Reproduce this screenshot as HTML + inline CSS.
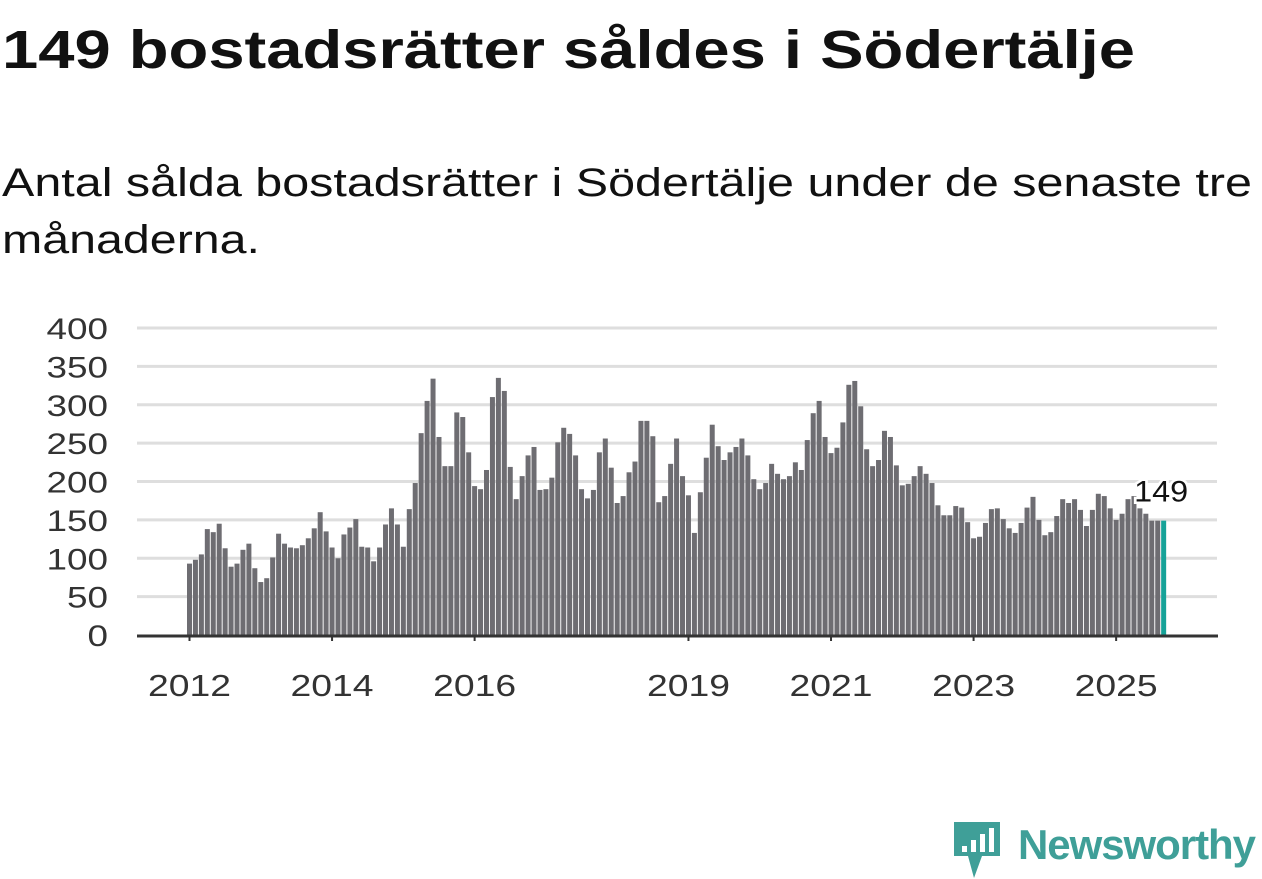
<!DOCTYPE html>
<html><head><meta charset="utf-8">
<style>
body{margin:0;background:#fff;width:1262px;height:879px;overflow:hidden;font-family:"Liberation Sans",sans-serif;color:#111}
svg{position:absolute;left:0;top:0}
</style></head><body>
<svg id="chart" width="1262" height="879">
<text x="2" y="68" font-size="54" font-weight="bold" fill="#111" textLength="1133" lengthAdjust="spacingAndGlyphs" font-family="Liberation Sans, sans-serif">149 bostadsrätter såldes i Södertälje</text>
<text font-size="40" fill="#111" font-family="Liberation Sans, sans-serif"><tspan x="2" y="196" textLength="1250" lengthAdjust="spacingAndGlyphs">Antal sålda bostadsrätter i Södertälje under de senaste tre</tspan><tspan x="2" y="253" textLength="258" lengthAdjust="spacingAndGlyphs">månaderna.</tspan></text>
</svg>
<script>
const values=[93,98,105,138,134,145,113,89,93,111,119,87,69,74,101,132,119,114,113,117,126,139,160,135,114,100,131,140,151,115,114,96,114,144,165,144,115,164,198,263,305,334,258,220,220,290,284,238,194,190,215,310,335,318,219,177,207,234,245,189,190,205,251,270,262,234,190,178,189,238,256,218,172,181,212,226,279,279,259,173,181,223,256,207,182,133,186,231,274,246,228,238,245,256,234,203,190,198,223,210,203,207,225,215,254,289,305,258,237,244,277,326,331,298,242,220,228,266,258,221,195,197,207,220,210,198,169,156,156,168,166,147,126,128,146,164,165,151,139,133,146,166,180,150,130,134,155,177,172,177,163,142,163,184,181,165,150,158,177,181,165,158,149,149,149];
const startYear=2012;
const yTicks=[0,50,100,150,200,250,300,350,400];
const xTickYears=[2012,2014,2016,2019,2021,2023,2025];
const NS='http://www.w3.org/2000/svg';
const svg=document.getElementById('chart');
const x0=187,step=5.94,bw=5,yBase=635,yScale=307/400;
const xs=i=>x0+i*step;
const ys=v=>yBase-v*yScale;
function mk(t,a){const e=document.createElementNS(NS,t);for(const k in a)e.setAttribute(k,a[k]);svg.appendChild(e);return e;}
yTicks.forEach(v=>{
  if(v>0){const g=mk('line',{x1:137,x2:1217,y1:ys(v),y2:ys(v),stroke:'#dedede','stroke-width':3});
  
  }
  const s=String(v);
  const t=mk('text',{x:108,y:ys(v)+11,'text-anchor':'end','font-size':30,fill:'#333','font-family':'Liberation Sans, sans-serif',textLength:s.length*20.5,lengthAdjust:'spacingAndGlyphs'});
  t.textContent=v;
  
  
});
values.forEach((v,i)=>{
  const last=i===values.length-1;
  const r=mk('rect',{x:xs(i),y:ys(v),width:bw,height:v*yScale,fill:last?'#16a298':'#6e6d72'});
  
  
});
const ax=mk('line',{x1:137,x2:1218,y1:yBase+1,y2:yBase+1,stroke:'#333','stroke-width':3});


xTickYears.forEach(yr=>{
  const i=(yr-startYear)*12;const cx=xs(i)+bw/2;
  const tk=mk('line',{x1:cx,x2:cx,y1:yBase,y2:yBase+6,stroke:'#333','stroke-width':2});
  
  
  const t=mk('text',{x:cx,y:696,'text-anchor':'middle','font-size':31,fill:'#333','font-family':'Liberation Sans, sans-serif',textLength:83,lengthAdjust:'spacingAndGlyphs'});
  t.textContent=yr;
  
  
});
const li=values.length-1;
const lab=mk('text',{x:xs(li)+0,y:ys(values[li])-19,'text-anchor':'middle','font-size':30,fill:'#111',stroke:'#fff','stroke-width':5,'paint-order':'stroke','font-family':'Liberation Sans, sans-serif',textLength:54,lengthAdjust:'spacingAndGlyphs'});
lab.textContent=values[li];


const lg=mk('g',{});


const p=document.createElementNS(NS,'path');
p.setAttribute('d','M954 822 h46 v34 h-18 l-8 22 l-6 -22 h-14 z');
p.setAttribute('fill','#3f9f98');
lg.appendChild(p);
[[962,846,6],[971,840,12],[980,834,18],[989,828,24]].forEach(b=>{
  const r=document.createElementNS(NS,'rect');
  r.setAttribute('x',b[0]);r.setAttribute('y',b[1]);r.setAttribute('width',5);r.setAttribute('height',b[2]);r.setAttribute('fill','#fff');lg.appendChild(r);
});
const lt=document.createElementNS(NS,'text');
lt.setAttribute('x',1018);lt.setAttribute('y',859);lt.setAttribute('font-size',42);lt.setAttribute('font-weight','bold');lt.setAttribute('fill','#3f9f98');lt.setAttribute('font-family','Liberation Sans, sans-serif');lt.setAttribute('textLength',238);
lt.textContent='Newsworthy';
lg.appendChild(lt);
</script>
</body></html>
